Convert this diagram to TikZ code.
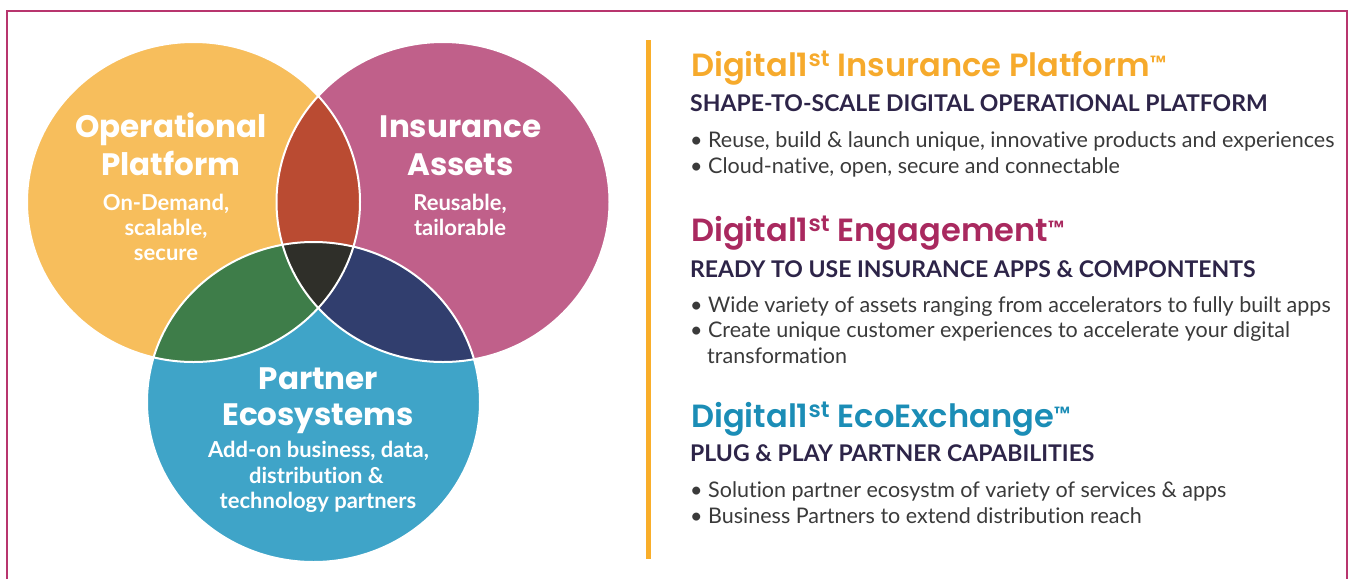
\documentclass[tikz,border=0pt]{standalone}
\usepackage{fontspec}
\setmainfont[Ligatures=NoCommon]{Lato}
\newfontfamily\titlefont{Poppins}
\newfontfamily\headfont{Poppins SemiBold}
\definecolor{yellowC}{HTML}{F7BE5C}
\definecolor{pinkC}{HTML}{C0608A}
\definecolor{blueC}{HTML}{3FA4C8}
\definecolor{redC}{HTML}{BA4B32}
\definecolor{greenC}{HTML}{3E7D49}
\definecolor{navyC}{HTML}{313E6E}
\definecolor{darkC}{HTML}{2F2F29}
\definecolor{orangeH}{HTML}{F6AA2C}
\definecolor{magH}{HTML}{A9295F}
\definecolor{tealH}{HTML}{1B8DB6}
\definecolor{subC}{HTML}{2D2448}
\definecolor{bodyC}{HTML}{3A3A3A}
\definecolor{frameC}{HTML}{B8356E}
\definecolor{barC}{HTML}{F9AE2A}
\newcommand{\tmark}{\raisebox{7pt}{\fontsize{19}{19}\selectfont ™}}
\tikzset{
  ctitle/.style={text=white, font=\titlefont\bfseries\fontsize{31}{36}\selectfont, anchor=base, inner sep=0pt},
  csub/.style={text=white, font=\bfseries\fontsize{22}{26}\selectfont, anchor=base, inner sep=0pt},
  headline/.style={font=\headfont\fontsize{32.1}{36}\selectfont, anchor=base west, inner sep=0pt},
  subhead/.style={text=subC, font=\bfseries\fontsize{23}{26}\selectfont, anchor=base west, inner sep=0pt},
  bul/.style={text=bodyC, font=\fontsize{21.5}{26}\selectfont, anchor=base west, inner sep=0pt},
  venn/.style={x radius=166.5pt, y radius=160pt},
}
\begin{document}
\begin{tikzpicture}[x=1pt,y=-1pt]
\useasboundingbox (0,0) rectangle (1350,579);
% frame
\draw[frameC, line width=2.5pt] (7,579) -- (7,11) -- (1347,11) -- (1347,579);
% orange bar
\fill[barC] (646,40) rectangle (651,559);
% circles
\coordinate (cy) at (193.5,202);
\coordinate (cp) at (443,202);
\coordinate (cb) at (313.5,402);
\fill[yellowC] (cy) ellipse [venn];
\fill[pinkC] (cp) ellipse [venn];
\fill[blueC] (cb) ellipse [venn];
\begin{scope}
  \clip (cy) ellipse [venn];
  \fill[redC] (cp) ellipse [venn];
  \fill[greenC] (cb) ellipse [venn];
\end{scope}
\begin{scope}
  \clip (cp) ellipse [venn];
  \fill[navyC] (cb) ellipse [venn];
  \clip (cb) ellipse [venn];
  \fill[darkC] (cy) ellipse [venn];
\end{scope}
\draw[white, line width=2pt] (cy) ellipse [venn];
\draw[white, line width=2pt] (cp) ellipse [venn];
\draw[white, line width=2pt] (cb) ellipse [venn];
% circle texts
\node[ctitle] (op1) at (171,137) {Operational};
\node[ctitle] (op2) at (171,175) {Platform};
\node[csub] (ops1) at (166,210) {On-Demand,};
\node[csub] (ops2) at (166,235) {scalable,};
\node[csub] (ops3) at (166,260) {secure};
\node[ctitle] (ia1) at (460.5,137) {Insurance};
\node[ctitle] (ia2) at (460.5,175) {Assets};
\node[csub] (ias1) at (460,210) {Reusable,};
\node[csub] (ias2) at (460,235) {tailorable};
\node[ctitle] (pe1) at (318.5,389) {Partner};
\node[ctitle] (pe2) at (318,425) {Ecosystems};
\node[csub] (pes1) at (318.5,457) {Add-on business, data,};
\node[csub] (pes2) at (316.5,483) {distribution \&};
\node[csub] (pes3) at (318,508) {technology partners};
% right panel
\node[headline, text=orangeH] (h1) at (691,76) {Digital1\textsuperscript{st} Insurance Platform\tmark};
\node[subhead] (s1) at (690,111.5) {SHAPE-TO-SCALE DIGITAL OPERATIONAL PLATFORM};
\node[bul] (b11) at (690,147) {• Reuse, build \& launch unique, innovative products and experiences};
\node[bul] (b12) at (690,173) {• Cloud-native, open, secure and connectable};
\node[headline, text=magH] (h2) at (691,241) {Digital1\textsuperscript{st} Engagement\tmark};
\node[subhead] (s2) at (690,277.5) {READY TO USE INSURANCE APPS \& COMPONTENTS};
\node[bul] (b21) at (690,312) {• Wide variety of assets ranging from accelerators to fully built apps};
\node[bul] (b22) at (690,337) {• Create unique customer experiences to accelerate your digital};
\node[bul] (b23) at (707,363) {transformation};
\node[headline, text=tealH] (h3) at (691,427) {Digital1\textsuperscript{st} EcoExchange\tmark};
\node[subhead] (s3) at (690,461.5) {PLUG \& PLAY PARTNER CAPABILITIES};
\node[bul] (b31) at (690,497) {• Solution partner ecosystm of variety of services \& apps};
\node[bul] (b32) at (690,523) {• Business Partners to extend distribution reach};
\end{tikzpicture}
\end{document}
